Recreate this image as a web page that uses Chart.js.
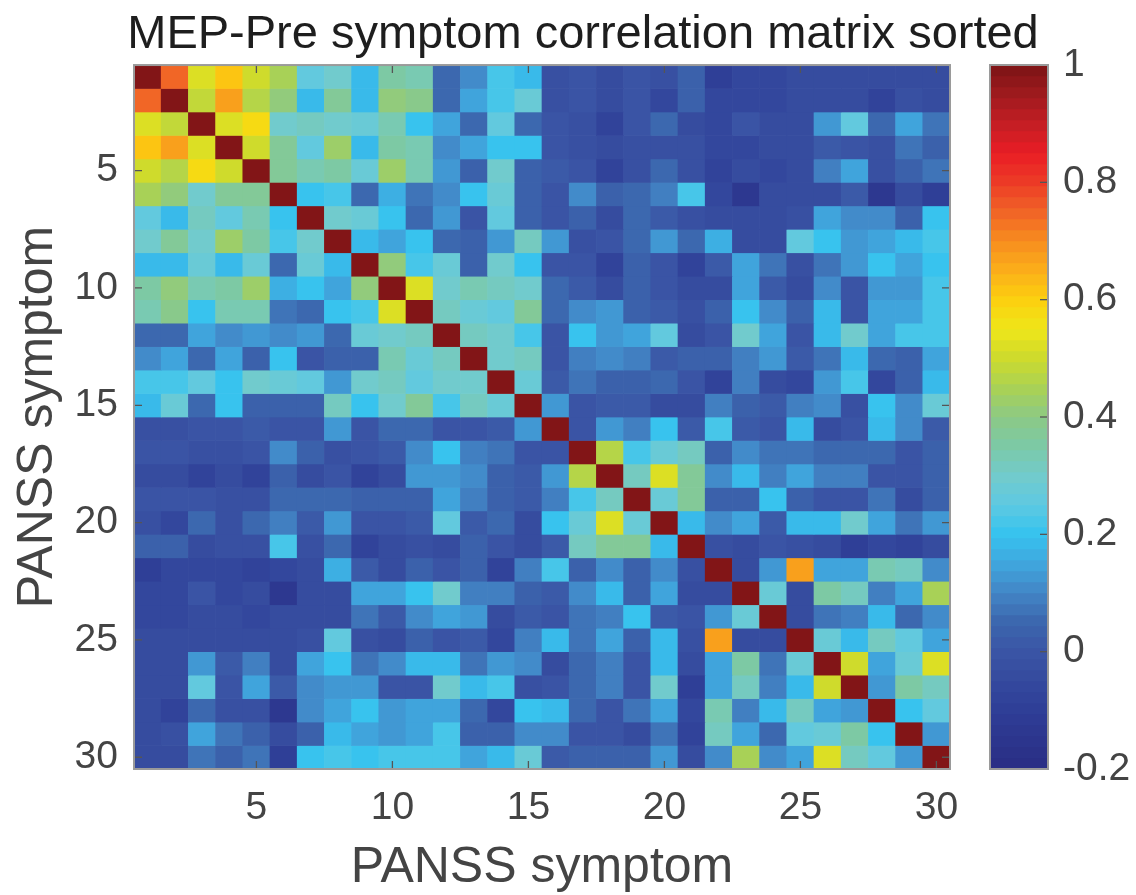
<!DOCTYPE html>
<html lang="en">
<head>
<meta charset="UTF-8">
<title>MEP-Pre symptom correlation matrix sorted</title>
<style>
  html, body { margin: 0; padding: 0; background: #fff; overflow: hidden; }
  #wrap { position: relative; width: 1136px; height: 895px; }
  #wrap canvas { position: absolute; left: 0; top: 0; }
</style>
</head>
<body>
<div id="wrap">
  <canvas id="matrix" width="1136" height="895"></canvas>
  <canvas id="colorbar" width="1136" height="895"></canvas>
</div>
<script src="https://cdn.jsdelivr.net/npm/chart.js@4.4.0/dist/chart.umd.min.js"></script>
<script>
// symptom order (sorted) and tick labels
const symptoms = [1,2,3,4,5,6,7,8,9,10,11,12,13,14,15,16,17,18,19,20,21,22,23,24,25,26,27,28,29,30];
const xTickLabels = ['5', '10', '15', '20', '25', '30'];
const yTickValues = [5, 10, 15, 20, 25, 30];
const cbTickValues = [-0.2, 0, 0.2, 0.4, 0.6, 0.8, 1];

// lower triangle of the correlation matrix, row 2..30, columns 1..row-1
const lowerTriangle = [
  [0.75],
  [0.53, 0.48],
  [0.62, 0.68, 0.52],
  [0.50, 0.46, 0.57, 0.50],
  [0.45, 0.40, 0.30, 0.38, 0.37],
  [0.25, 0.18, 0.32, 0.25, 0.33, 0.20],
  [0.30, 0.38, 0.30, 0.42, 0.36, 0.22, 0.30],
  [0.18, 0.18, 0.28, 0.18, 0.28, 0.05, 0.28, 0.18],
  [0.35, 0.40, 0.33, 0.36, 0.42, 0.17, 0.20, 0.14, 0.40],
  [0.34, 0.39, 0.20, 0.33, 0.33, 0.08, 0.05, 0.20, 0.22, 0.53],
  [0.05, 0.05, 0.15, 0.10, 0.12, 0.10, 0.12, 0.05, 0.28, 0.29, 0.31],
  [0.10, 0.15, 0.06, 0.15, 0.04, 0.20, 0.00, 0.04, 0.04, 0.34, 0.27, 0.32],
  [0.22, 0.22, 0.25, 0.20, 0.29, 0.27, 0.25, 0.12, 0.29, 0.32, 0.25, 0.29, 0.29],
  [0.18, 0.28, 0.06, 0.20, 0.04, 0.04, 0.04, 0.31, 0.20, 0.29, 0.38, 0.22, 0.32, 0.27],
  [-0.02, -0.02, 0.00, 0.00, 0.02, 0.00, -0.01, 0.12, 0.00, 0.06, 0.05, -0.01, -0.01, 0.01, 0.12],
  [0.00, -0.01, -0.03, -0.03, -0.01, 0.10, 0.03, -0.03, -0.01, 0.02, 0.11, 0.20, 0.09, 0.07, -0.01, -0.01],
  [-0.04, -0.04, -0.07, -0.05, -0.07, 0.04, -0.05, -0.01, -0.07, -0.04, 0.12, 0.12, 0.10, 0.04, 0.02, 0.12, 0.47],
  [-0.01, -0.01, -0.01, -0.02, -0.02, 0.06, 0.05, 0.05, 0.03, 0.03, 0.04, 0.15, 0.09, 0.04, 0.02, 0.09, 0.22, 0.31],
  [-0.02, -0.06, 0.06, -0.02, 0.06, 0.09, 0.02, 0.12, -0.01, 0.00, 0.02, 0.25, 0.02, 0.05, -0.04, 0.20, 0.28, 0.53, 0.27],
  [0.04, 0.04, -0.04, -0.02, -0.02, 0.22, -0.03, 0.05, -0.08, -0.04, -0.02, -0.04, 0.04, -0.01, -0.04, 0.02, 0.31, 0.38, 0.38, 0.18],
  [-0.10, -0.06, -0.06, -0.06, -0.07, -0.06, -0.04, 0.17, 0.02, -0.04, 0.04, -0.01, 0.03, -0.07, 0.09, 0.22, 0.04, 0.10, 0.03, 0.10, -0.03],
  [-0.06, -0.06, 0.00, -0.06, -0.04, -0.14, -0.04, -0.04, 0.15, 0.15, 0.20, 0.30, 0.09, 0.09, 0.04, 0.02, 0.10, 0.18, 0.03, 0.15, -0.05, -0.04],
  [-0.06, -0.06, -0.05, -0.05, -0.06, -0.05, -0.04, -0.04, 0.07, 0.02, 0.10, 0.15, 0.12, -0.04, 0.02, 0.00, 0.07, 0.09, 0.20, 0.02, 0.00, 0.12, 0.27],
  [-0.05, -0.05, -0.05, -0.04, -0.05, -0.05, -0.03, 0.26, -0.02, -0.04, 0.03, -0.01, 0.02, -0.06, 0.09, 0.18, 0.07, 0.15, 0.04, 0.18, -0.02, 0.68, -0.04, -0.04],
  [-0.05, -0.05, 0.12, 0.02, 0.09, -0.04, 0.15, 0.20, 0.07, 0.10, 0.18, 0.18, 0.07, 0.12, 0.10, -0.04, 0.06, 0.09, -0.01, 0.18, -0.05, 0.15, 0.36, 0.07, 0.27],
  [-0.05, -0.05, 0.26, -0.01, 0.15, 0.02, 0.10, 0.12, 0.12, -0.01, -0.01, 0.30, 0.18, 0.22, -0.03, -0.01, 0.05, 0.09, -0.01, 0.30, -0.09, 0.15, 0.31, 0.09, 0.18, 0.50],
  [-0.05, -0.07, 0.05, -0.02, -0.02, -0.14, 0.10, 0.15, 0.20, 0.12, 0.15, 0.15, 0.06, -0.06, 0.20, 0.18, 0.05, -0.01, 0.08, 0.15, -0.06, 0.34, 0.09, 0.18, 0.31, 0.15, 0.12],
  [-0.04, -0.02, 0.15, 0.07, 0.04, -0.05, 0.04, 0.18, 0.15, 0.12, 0.15, 0.22, 0.04, 0.04, 0.10, 0.10, -0.01, -0.01, -0.04, 0.08, -0.08, 0.31, 0.15, 0.06, 0.26, 0.28, 0.35, 0.20],
  [-0.05, -0.05, 0.07, 0.03, 0.07, -0.10, 0.20, 0.22, 0.20, 0.23, 0.23, 0.23, 0.15, 0.18, 0.28, 0.02, 0.03, 0.03, 0.04, 0.12, -0.05, 0.10, 0.45, 0.11, 0.15, 0.53, 0.32, 0.25, 0.12]
];

// colour scale (jet-like, as printed), value -> colour
const cmapStops = [
  [-0.20, '#2a2d84'], [-0.10, '#2f3e97'], [0.00, '#3a55a5'], [0.05, '#3c66ae'],
  [0.10, '#4285c5'], [0.15, '#40a6de'], [0.20, '#36c3ef'], [0.25, '#5ec9e2'],
  [0.30, '#72cbcc'], [0.35, '#7cc9a6'], [0.40, '#8cc985'], [0.45, '#aad254'],
  [0.50, '#cdda2d'], [0.55, '#efe619'], [0.60, '#fcd00f'], [0.65, '#fbae1a'],
  [0.70, '#f78d1f'], [0.75, '#f16327'], [0.80, '#ec3b26'], [0.85, '#e91d25'],
  [0.90, '#c41e24'], [0.95, '#9e1a1e'], [1.00, '#7b1416']
];
const cMin = -0.2, cMax = 1, nLevels = 64;

function hexRgb(h) {
  return [1, 3, 5].map(i => parseInt(h.slice(i, i + 2), 16));
}
function stopColor(v) {
  for (let i = 1; i < cmapStops.length; i++) {
    const [v0, c0] = cmapStops[i - 1], [v1, c1] = cmapStops[i];
    if (v <= v1) {
      const t = (v - v0) / (v1 - v0), a = hexRgb(c0), b = hexRgb(c1);
      return 'rgb(' + a.map((x, k) => Math.round(x + (b[k] - x) * t)).join(',') + ')';
    }
  }
  return cmapStops[cmapStops.length - 1][1];
}
const levels = Array.from({ length: nLevels }, (_, i) => cMin + (i + 0.5) * (cMax - cMin) / nLevels);
const levelColors = levels.map(stopColor);
function colorFor(v) {
  let i = Math.floor((v - cMin) / (cMax - cMin) * nLevels);
  return levelColors[Math.max(0, Math.min(nLevels - 1, i))];
}

// full symmetric matrix from the lower triangle
const corr = symptoms.map((_, i) => symptoms.map((_, j) =>
  i === j ? 1 : (i > j ? lowerTriangle[i - 1][j] : lowerTriangle[j - 1][i])));

const fontFamily = "'Liberation Sans', Arial, Helvetica, sans-serif";
const textColor = '#444';
const frameColor = '#9a9a9a';
const tickMarkColor = '#555';

function frameWithTicks(xs, ys, sides) {
  return {
    id: 'frameWithTicks',
    afterDatasetsDraw(chart) {
      const { ctx, chartArea: a } = chart;
      ctx.save();
      ctx.strokeStyle = tickMarkColor;
      ctx.lineWidth = 1.3;
      const len = 8;
      xs(chart).forEach(px => {
        ctx.beginPath();
        ctx.moveTo(px, a.bottom); ctx.lineTo(px, a.bottom - len);
        ctx.moveTo(px, a.top); ctx.lineTo(px, a.top + len);
        ctx.stroke();
      });
      ys(chart).forEach(py => {
        ctx.beginPath();
        if (sides.left) { ctx.moveTo(a.left, py); ctx.lineTo(a.left + len, py); }
        ctx.moveTo(a.right, py); ctx.lineTo(a.right - len, py);
        ctx.stroke();
      });
      ctx.strokeStyle = frameColor;
      ctx.lineWidth = 2;
      ctx.strokeRect(a.left, a.top, a.right - a.left, a.bottom - a.top);
      ctx.restore();
    }
  };
}

const labels = symptoms.map(String);

new Chart(document.getElementById('matrix'), {
  type: 'bar',
  data: {
    labels: labels,
    datasets: corr.map((row, r) => ({
      label: 'symptom ' + symptoms[r],
      data: row.map(() => [symptoms[r] - 0.5, symptoms[r] + 0.5]),
      backgroundColor: row.map(colorFor),
      borderWidth: 0,
      grouped: false,
      barPercentage: 1,
      categoryPercentage: 1
    }))
  },
  options: {
    responsive: false,
    animation: false,
    layout: { padding: { left: 30, right: 0, top: 0, bottom: 0 } },
    scales: {
      x: {
        type: 'category',
        offset: true,
        grid: { display: false, drawTicks: false },
        border: { display: false },
        ticks: {
          autoSkip: false, maxRotation: 0, padding: 16, color: textColor,
          font: { family: fontFamily, size: 39 },
          callback: (v, i) => xTickLabels.includes(labels[i]) ? labels[i] : ''
        },
        title: {
          display: true, text: 'PANSS symptom', color: textColor,
          font: { family: fontFamily, size: 50, lineHeight: 1 },
          padding: { top: 0, bottom: 2 }
        },
        afterFit: s => { s.height = 126; }
      },
      y: {
        type: 'linear',
        reverse: true,
        min: 0.5, max: 30.5,
        grid: { display: false, drawTicks: false },
        border: { display: false },
        afterBuildTicks: s => { s.ticks = yTickValues.map(v => ({ value: v })); },
        ticks: { padding: 16, color: textColor, font: { family: fontFamily, size: 39 } },
        title: {
          display: true, text: 'PANSS symptom', color: textColor,
          font: { family: fontFamily, size: 50, lineHeight: 1 },
          padding: { top: -17, bottom: 0 }
        },
        afterFit: s => { s.width = 104; }
      },
      yRight: {
        type: 'linear', position: 'right', min: 0, max: 1,
        grid: { display: false, drawTicks: false },
        border: { display: false },
        ticks: { display: false },
        afterFit: s => { s.width = 186; }
      }
    },
    plugins: {
      legend: { display: false },
      tooltip: { enabled: false },
      title: {
        display: true,
        text: 'MEP-Pre symptom correlation matrix sorted',
        color: '#1e1e1e',
        font: { family: fontFamily, size: 47, weight: 'normal', lineHeight: 1.15 },
        padding: { top: 8, bottom: 3 }
      }
    }
  },
  plugins: [frameWithTicks(
    c => xTickLabels.map(l => c.scales.x.getPixelForValue(labels.indexOf(l))),
    c => yTickValues.map(v => c.scales.y.getPixelForValue(v)),
    { left: true }
  )]
});

new Chart(document.getElementById('colorbar'), {
  type: 'bar',
  data: {
    datasets: [{
      data: levels.map(v => ({ x: 1, y: v })),
      backgroundColor: levelColors,
      borderWidth: 0,
      barPercentage: 1,
      categoryPercentage: 1
    }]
  },
  options: {
    indexAxis: 'y',
    responsive: false,
    animation: false,
    layout: { padding: { left: 990, right: 0, top: 65, bottom: 126 } },
    scales: {
      x: { type: 'linear', display: false, min: 0, max: 1 },
      y: {
        type: 'linear', position: 'right', offset: false,
        min: cMin, max: cMax,
        grid: { display: false, drawTicks: false },
        border: { display: false },
        afterBuildTicks: s => { s.ticks = cbTickValues.map(v => ({ value: v })); },
        ticks: {
          padding: 15, color: textColor,
          font: { family: fontFamily, size: 39 },
          callback: v => String(Math.round(v * 10) / 10)
        },
        afterFit: s => { s.width = 88; }
      }
    },
    plugins: { legend: { display: false }, tooltip: { enabled: false } }
  },
  plugins: [frameWithTicks(
    c => [],
    c => cbTickValues.map(v => c.scales.y.getPixelForValue(v)),
    { left: false }
  )]
});
</script>
</body>
</html>
